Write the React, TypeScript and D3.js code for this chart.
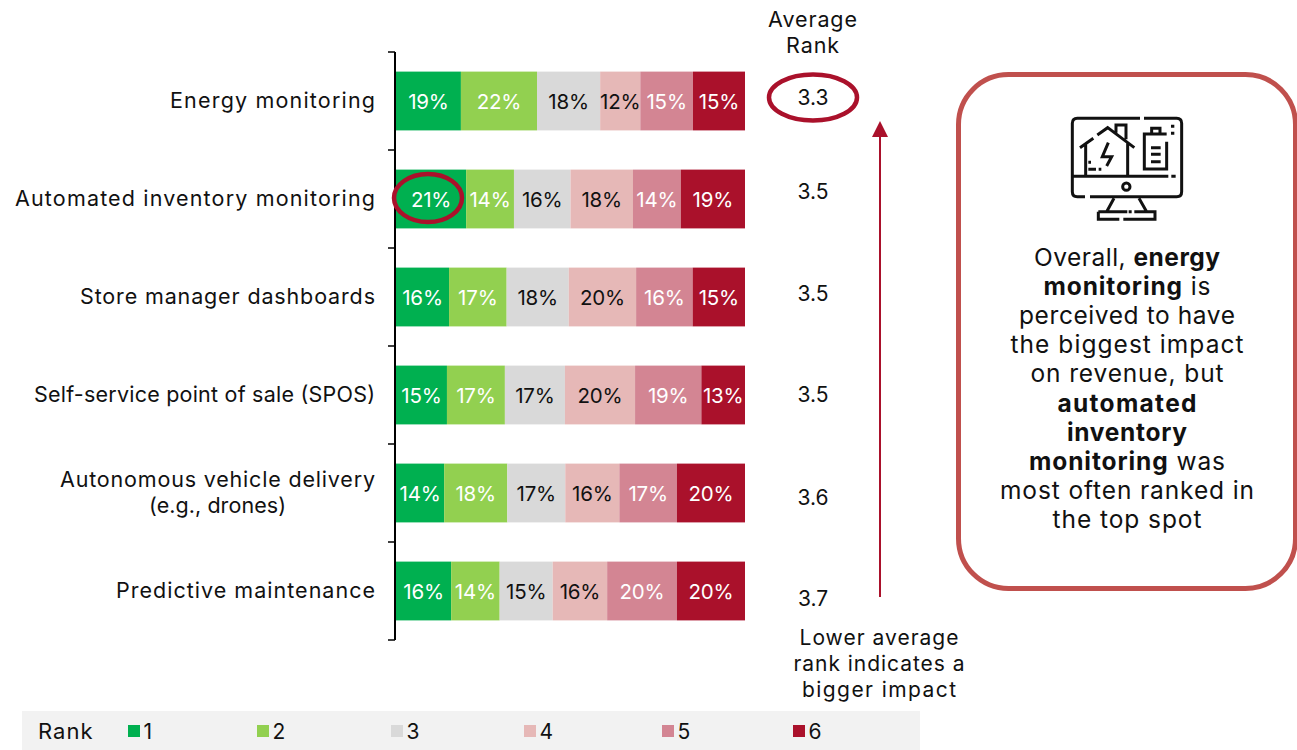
import React from "react";
import * as d3 from "d3";

const categories = ["Energy monitoring", "Automated inventory monitoring", "Store manager dashboards", "Self-service point of sale (SPOS)", "Autonomous vehicle delivery|(e.g., drones)", "Predictive maintenance"];
const ranks = ["1", "2", "3", "4", "5", "6"];
const rowValues = [
  [18.6, 21.8, 18.1, 11.5, 15.1, 14.9],
  [20.1, 13.7, 16.2, 17.9, 13.7, 18.4],
  [15.2, 16.5, 17.8, 19.3, 16.2, 15.0],
  [14.6, 16.6, 17.2, 20.1, 19.0, 12.5],
  [13.8, 18.1, 16.6, 15.5, 16.5, 19.5],
  [15.8, 13.9, 15.2, 15.6, 20.0, 19.5],
];
const rowLabels = [
  [19, 22, 18, 12, 15, 15],
  [21, 14, 16, 18, 14, 19],
  [16, 17, 18, 20, 16, 15],
  [15, 17, 17, 20, 19, 13],
  [14, 18, 17, 16, 17, 20],
  [16, 14, 15, 16, 20, 20],
];
const averageRanks = ["3.3", "3.5", "3.5", "3.5", "3.6", "3.7"];
const averageY = [97.5, 191.5, 293.5, 394.5, 497.5, 598.5];
const colors = ["#00B050", "#92D050", "#D9D9D9", "#E6B8B7", "#D38593", "#AA112B"];
const labelColors = ["#fff", "#fff", "#111", "#111", "#fff", "#fff"];
const legendX = [128, 257, 391, 524, 662, 793];
const calloutLines: [string, boolean][][] = [
  [["Overall, ", false], ["energy", true]],
  [["monitoring", true], [" is", false]],
  [["perceived to have", false]],
  [["the biggest impact", false]],
  [["on revenue, but", false]],
  [["automated", true]],
  [["inventory", true]],
  [["monitoring", true], [" was", false]],
  [["most often ranked in", false]],
  [["the top spot", false]],
];
const noteLines = ["Lower average", "rank indicates a", "bigger impact"];
// rendered text widths, fitted because the original typeface is not installed
const categoryWidths = [[205], [360], [295], [341], [315, 137], [259]];
const calloutWidths = [186, 167, 216, 233, 193, 139, 120, 196, 254, 149];
const noteWidths = [159, 171, 154];

const FONT = "Inter, 'Open Sans', sans-serif";
const RED = "#AA112B";

const y = d3.scaleBand<number>().domain(d3.range(categories.length)).range([52, 640]).paddingInner(0.4).paddingOuter(0.2);
const x = d3.scaleLinear().domain([0, 100]).range([396, 745]);
const stack = rowValues.map((r) => {
  const total = d3.sum(r);
  const cum = d3.cumsum(r.map((v) => (v / total) * 100));
  return r.map((_, i) => ({ x0: i ? cum[i - 1] : 0, x1: cum[i], i }));
});
const tickYs = d3.range(categories.length + 1).map((i) => 52 + i * y.step());

function Icon() {
  return (
    <g transform="translate(1040,100) scale(0.3333)" fill="none" stroke="#111" strokeWidth={9}>
      <path d="M300 55H112Q97 55 97 70V275Q97 290 112 290H135M150 290H410Q425 290 425 275V70Q425 55 410 55H312" />
      <path d="M97 229H385M394 229H407" />
      <circle cx={259} cy={260} r={11} />
      <path d="M222 295L200 335M297 295L320 335M175 335H262M266 335H275M283 335H345V358H250M238 358H175V335" />
      <path d="M120 143L160 115M172 105L203 83L283 143M228 98V75H258V118M137 130V229M263 125V229" />
      <path d="M145 187H153M145 208H168M176 208H184M205 128L187 170H215L200 198" />
      <path d="M380 125V207H313V102H380M335 102V85H360V102M333 143H362M333 163H362M333 185H362" />
      <path d="M398 74V83M398 95V104" strokeWidth={10} />
    </g>
  );
}

export default function App() {
  return (
    <svg width={1297} height={750} style={{ position: "absolute", left: 0, top: 0, display: "block" }} fontFamily={FONT}>
      <rect width={1297} height={750} fill="#fff" />
      {stack.map((row, r) => (
        <g key={r}>
          {row.map((s) => (
            <g key={s.i}>
              <rect x={x(s.x0)} y={y(r)} width={x(s.x1) - x(s.x0)} height={y.bandwidth()} fill={colors[s.i]} />
              <text x={(x(s.x0) + x(s.x1)) / 2} y={y(r)! + y.bandwidth() / 2 + 0.3} textAnchor="middle" dominantBaseline="central" fontSize={20.5} letterSpacing={-0.2} fill={labelColors[s.i]}>
                {rowLabels[r][s.i]}%
              </text>
            </g>
          ))}
          {categories[r].split("|").map((t, k, a) => (
            <text key={k} x={k === 1 ? 217.5 : 375} y={y(r)! + y.bandwidth() / 2 - 1 + (k - (a.length - 1) / 2) * 26} textAnchor={k === 1 ? "middle" : "end"} dominantBaseline="central" fontSize={21.5} textLength={categoryWidths[r][k]} lengthAdjust="spacing" fill="#111">
              {t}
            </text>
          ))}
          <text x={813} y={averageY[r]} textAnchor="middle" dominantBaseline="central" fontSize={21} fill="#111">{averageRanks[r]}</text>
        </g>
      ))}
      <line x1={395} x2={395} y1={52} y2={640} stroke="#000" strokeWidth={2} />
      {tickYs.map((t) => (
        <line key={t} x1={388} x2={395} y1={t} y2={t} stroke="#000" strokeWidth={1.5} />
      ))}
      <ellipse cx={428} cy={198} rx={34} ry={24} fill="none" stroke={RED} strokeWidth={4.5} />
      <ellipse cx={813} cy={97.5} rx={44} ry={23} fill="none" stroke={RED} strokeWidth={4.5} />
      {["Average", "Rank"].map((t, i) => (
        <text key={t} x={813} y={18.5 + i * 26} textAnchor="middle" dominantBaseline="central" fontSize={21.5} letterSpacing={0.9} fill="#111">{t}</text>
      ))}
      <line x1={880} x2={880} y1={597} y2={135} stroke={RED} strokeWidth={2} />
      <path d="M880 121L888 137H872Z" fill={RED} />
      {noteLines.map((t, i) => (
        <text key={t} x={879} y={637 + i * 26} textAnchor="middle" dominantBaseline="central" fontSize={21} textLength={noteWidths[i]} lengthAdjust="spacing" fill="#111">{t}</text>
      ))}
      <rect x={958.5} y={74.5} width={337} height={514} rx={50} fill="#fff" stroke="#C0504D" strokeWidth={5} />
      <Icon />
      {calloutLines.map((line, i) => (
        <text key={i} x={1127} y={256.5 + i * 29.2} textAnchor="middle" dominantBaseline="central" fontSize={24.5} textLength={calloutWidths[i]} lengthAdjust="spacing" fill="#111">
          {line.map(([t, b], k) => (
            <tspan key={k} fontWeight={b ? 700 : 400}>{t}</tspan>
          ))}
        </text>
      ))}
      <rect x={22} y={711} width={898} height={39} fill="#F2F2F2" />
      <text x={38} y={731} dominantBaseline="central" fontSize={22} letterSpacing={1} fill="#111">Rank</text>
      {ranks.map((r, i) => (
        <g key={r}>
          <rect x={legendX[i]} y={725} width={12} height={12} fill={colors[i]} />
          <text x={legendX[i] + 15.5} y={731.5} dominantBaseline="central" fontSize={21} fill="#111">{r}</text>
        </g>
      ))}
    </svg>
  );
}
